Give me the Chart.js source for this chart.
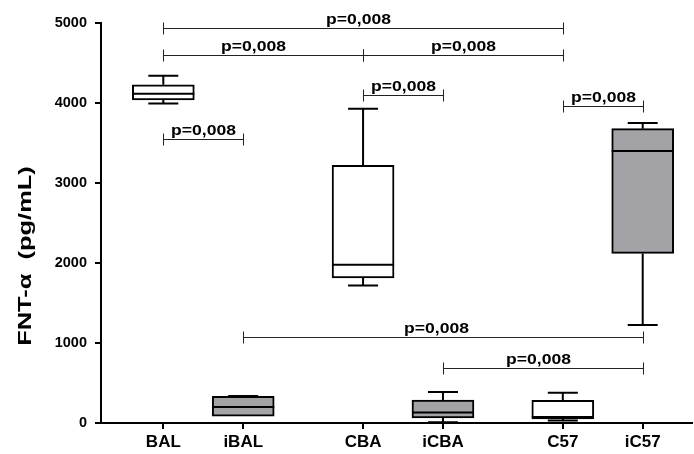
<!DOCTYPE html>
<html>
<head>
<meta charset="utf-8">
<script src="https://cdn.jsdelivr.net/npm/chart.js@4/dist/chart.umd.min.js"></script>
<style>
  html, body { margin: 0; padding: 0; background: #fff; }
  #wrap { width: 694px; height: 454px; }
</style>
</head>
<body>
<div id="wrap"><canvas id="c" width="694" height="454"></canvas></div>
<script>
// Groups and box-plot summaries (FNT-α, pg/mL)
const categories = ['BAL', 'iBAL', 'CBA', 'iCBA', 'C57', 'iC57'];
const minVals    = [3995,   82, 1720,  10,  30, 1225];
const q1Vals     = [4040,   85, 1812,  62,  50, 2120];
const medianVals = [4115,  200, 1979, 132,  75, 3400];
const q3Vals     = [4228,  332, 3220, 287, 283, 3679];
const maxVals    = [4340,  338, 3929, 387, 379, 3750];
const yTicks     = [0, 1000, 2000, 3000, 4000, 5000];
const yTitle     = 'FNT-α  (pg/mL)';

// Significance brackets between groups
const bracketFrom  = [0, 0, 2, 2, 4, 0, 1, 3];
const bracketTo    = [4, 2, 4, 3, 5, 1, 5, 5];
const bracketLevel = [4940, 4600, 4600, 4095, 3965, 3550, 1075, 690];
const bracketText  = ['p=0,008', 'p=0,008', 'p=0,008', 'p=0,008', 'p=0,008', 'p=0,008', 'p=0,008', 'p=0,008'];

// Layout: slot of each group on the x axis (pairs grouped by strain)
const slots = [0, 1, 2.5, 3.5, 5, 6];
const infected = [false, true, false, true, false, true];
const labelShift = [-5, -10, 0, 0, 0, 0, -7, -5];

const FONT = '"Liberation Sans", Arial, sans-serif';
const GRAY = '#a2a2a7';

// draws text stretched horizontally by factor sx, centred at (cx, baseline)
function stretchedText(ctx, text, cx, base, sx) {
  ctx.save();
  ctx.translate(cx, base);
  ctx.scale(sx, 1);
  ctx.fillText(text, 0, 0);
  ctx.restore();
}

const boxPlotPlugin = {
  id: 'boxplot',
  afterDatasetsDraw(chart) {
    const { ctx, scales: { x, y } } = chart;
    const meta = chart.getDatasetMeta(0);
    ctx.save();
    ctx.strokeStyle = '#000';
    ctx.lineWidth = 2;
    categories.forEach((c, i) => {
      const bar = meta.data[i];
      const cx = x.getPixelForValue(slots[i]);
      const half = bar.width / 2;
      const cap = 15;
      const yMin = y.getPixelForValue(minVals[i]);
      const yQ1 = y.getPixelForValue(q1Vals[i]);
      const yMed = y.getPixelForValue(medianVals[i]);
      const yQ3 = y.getPixelForValue(q3Vals[i]);
      const yMax = y.getPixelForValue(maxVals[i]);
      ctx.beginPath();
      if (yMax < yQ3 - 0.5) {
        ctx.moveTo(cx, yQ3); ctx.lineTo(cx, yMax);
      }
      ctx.moveTo(cx - cap, yMax); ctx.lineTo(cx + cap, yMax);
      if (yMin > yQ1 + 0.5) {
        ctx.moveTo(cx, yQ1); ctx.lineTo(cx, yMin);
        ctx.moveTo(cx - cap, yMin); ctx.lineTo(cx + cap, yMin);
      }
      ctx.moveTo(cx - half, yMed); ctx.lineTo(cx + half, yMed);
      ctx.stroke();
    });
    ctx.restore();
  },
  afterDraw(chart) {
    const { ctx, scales: { x, y } } = chart;
    ctx.save();
    ctx.strokeStyle = '#222';
    ctx.lineWidth = 1;
    ctx.fillStyle = '#000';
    ctx.font = 'bold 15px ' + FONT;
    ctx.textAlign = 'center';
    ctx.textBaseline = 'alphabetic';
    bracketLevel.forEach((lv, k) => {
      const x1 = Math.round(x.getPixelForValue(slots[bracketFrom[k]])) + 0.5;
      const x2 = Math.round(x.getPixelForValue(slots[bracketTo[k]])) + 0.5;
      const yy = Math.round(y.getPixelForValue(lv)) + 0.5;
      ctx.beginPath();
      ctx.moveTo(x1, yy); ctx.lineTo(x2, yy);
      ctx.moveTo(x1, yy - 6); ctx.lineTo(x1, yy + 6);
      ctx.moveTo(x2, yy - 6); ctx.lineTo(x2, yy + 6);
      ctx.stroke();
      stretchedText(ctx, bracketText[k], (x1 + x2) / 2 + labelShift[k], yy - 5, 1.17);
    });
    // y-axis title, rotated
    ctx.font = 'bold 19px ' + FONT;
    ctx.translate(31, 256);
    ctx.rotate(-Math.PI / 2);
    stretchedText(ctx, yTitle, 0, 0, 1.34);
    ctx.restore();
  }
};

Chart.defaults.color = '#000';
Chart.defaults.font.family = FONT;

new Chart(document.getElementById('c'), {
  type: 'bar',
  data: {
    datasets: [{
      data: categories.map((c, i) => ({ x: slots[i], y: [q1Vals[i], q3Vals[i]] })),
      backgroundColor: infected.map(f => f ? GRAY : '#fff'),
      borderColor: '#000',
      borderWidth: 2,
      borderSkipped: false,
      barThickness: 62
    }]
  },
  options: {
    responsive: false,
    animation: false,
    devicePixelRatio: 1,
    layout: { padding: { top: 23, right: 2, left: 0, bottom: 0 } },
    plugins: { legend: { display: false }, tooltip: { enabled: false } },
    scales: {
      x: {
        type: 'linear',
        offset: false,
        min: -0.78,
        max: 6.617,
        afterBuildTicks: s => { s.ticks = slots.map(v => ({ value: v })); },
        afterFit: s => { s.height = 31; },
        ticks: {
          autoSkip: false,
          maxRotation: 0,
          padding: 3,
          font: { size: 17, weight: 'bold' },
          callback: (v, i) => categories[i]
        },
        grid: {
          offset: false,
          drawOnChartArea: false,
          drawTicks: true,
          tickLength: 6,
          color: '#000',
          lineWidth: 2
        },
        border: { display: true, color: '#000', width: 2 }
      },
      y: {
        min: 0,
        max: 5000,
        afterBuildTicks: s => { s.ticks = yTicks.map(v => ({ value: v })); },
        afterFit: s => { s.width = 101; },
        ticks: { padding: 8, font: { size: 14.5, weight: 'bold' }, callback: v => String(v) },
        grid: { drawOnChartArea: false, drawTicks: true, tickLength: 6, color: '#000', lineWidth: 2 },
        border: { display: true, color: '#000', width: 2 }
      }
    }
  },
  plugins: [boxPlotPlugin]
});
</script>
</body>
</html>
